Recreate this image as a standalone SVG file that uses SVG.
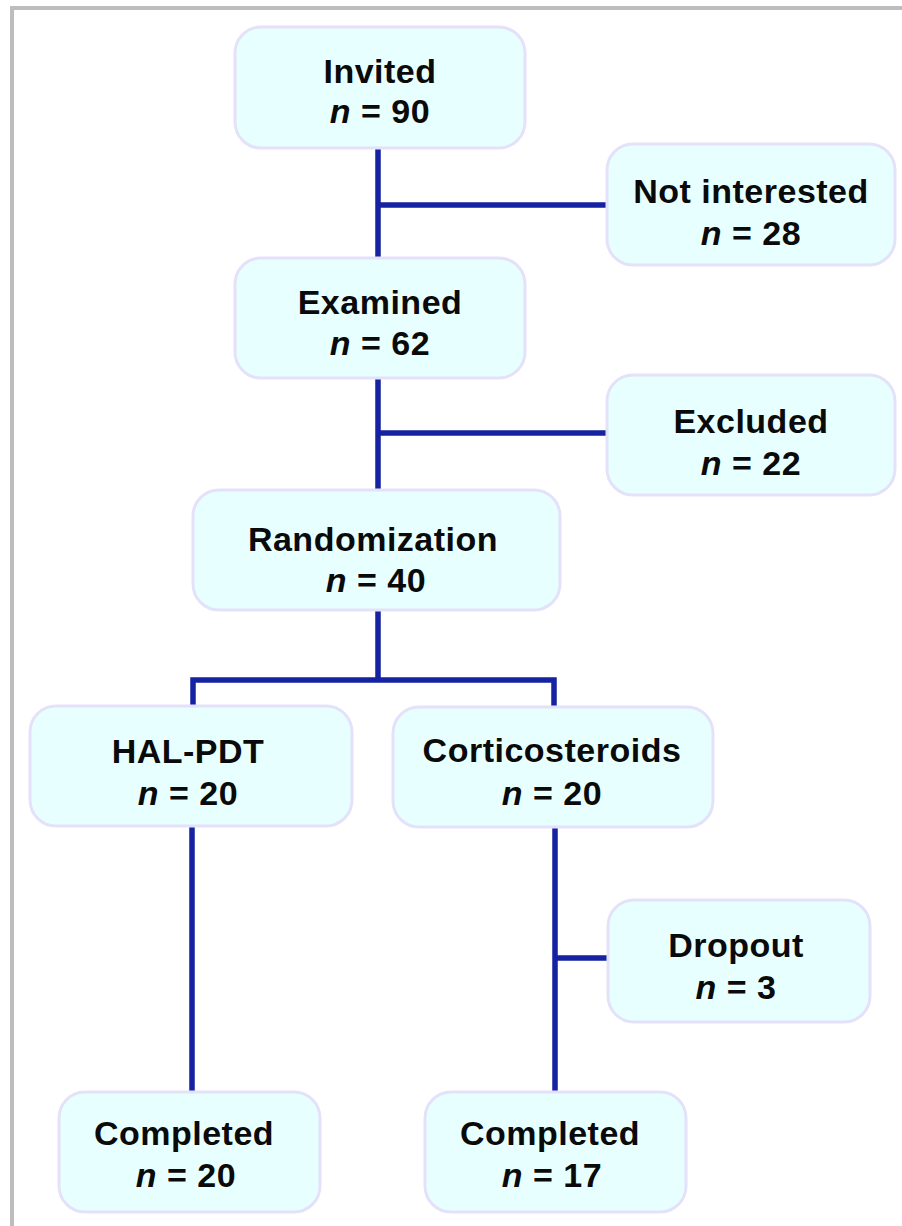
<svg xmlns="http://www.w3.org/2000/svg" width="902" height="1226" viewBox="0 0 902 1226">
<style>
.box{fill:#e8ffff;stroke:#e4e2fa;stroke-width:3}
.t{font-family:"Liberation Sans",Arial,sans-serif;font-weight:bold;font-size:34px;fill:#0a0a0a;text-anchor:middle;letter-spacing:0.5px}
.n{font-style:italic}
.c{stroke:#1522a2;stroke-width:5.5;fill:none;stroke-linecap:square}
</style>
<rect width="902" height="1226" fill="#ffffff"/>
<g id="frame">
<line x1="10" y1="8" x2="902" y2="8" stroke="#bdbdbd" stroke-width="4"/>
<line x1="12" y1="6" x2="12" y2="1226" stroke="#bdbdbd" stroke-width="4"/>
</g>
<g id="connectors">
<path class="c" d="M378 148V258M378 205H606"/>
<path class="c" d="M378 378V490M378 433H606"/>
<path class="c" d="M378 610V680M193 705V680H554V705"/>
<path class="c" d="M192 827V1091"/>
<path class="c" d="M555 827V1091M555 958H607"/>
</g>
<g id="invited">
<rect class="box" x="235" y="27" width="290" height="121" rx="26"/>
<text class="t" x="380" y="83">Invited</text>
<text class="t" x="380" y="123"><tspan class="n">n</tspan> = 90</text>
</g>
<g id="not-interested">
<rect class="box" x="607" y="144" width="288" height="121" rx="26"/>
<text class="t" x="751" y="203">Not interested</text>
<text class="t" x="751" y="245"><tspan class="n">n</tspan> = 28</text>
</g>
<g id="examined">
<rect class="box" x="235" y="258" width="290" height="120" rx="26"/>
<text class="t" x="380" y="314">Examined</text>
<text class="t" x="380" y="355"><tspan class="n">n</tspan> = 62</text>
</g>
<g id="excluded">
<rect class="box" x="607" y="375" width="288" height="120" rx="26"/>
<text class="t" x="751" y="433">Excluded</text>
<text class="t" x="751" y="475"><tspan class="n">n</tspan> = 22</text>
</g>
<g id="randomization">
<rect class="box" x="193" y="490" width="367" height="120" rx="26"/>
<text class="t" x="373" y="551">Randomization</text>
<text class="t" x="376" y="592"><tspan class="n">n</tspan> = 40</text>
</g>
<g id="hal-pdt">
<rect class="box" x="30" y="706" width="322" height="120" rx="26"/>
<text class="t" x="188" y="763">HAL-PDT</text>
<text class="t" x="188" y="805"><tspan class="n">n</tspan> = 20</text>
</g>
<g id="corticosteroids">
<rect class="box" x="393" y="707" width="320" height="120" rx="26"/>
<text class="t" x="552" y="762">Corticosteroids</text>
<text class="t" x="552" y="805"><tspan class="n">n</tspan> = 20</text>
</g>
<g id="dropout">
<rect class="box" x="608" y="900" width="262" height="122" rx="26"/>
<text class="t" x="736" y="957">Dropout</text>
<text class="t" x="736" y="999"><tspan class="n">n</tspan> = 3</text>
</g>
<g id="completed-hal">
<rect class="box" x="59" y="1092" width="261" height="120" rx="26"/>
<text class="t" x="184" y="1145">Completed</text>
<text class="t" x="186" y="1187"><tspan class="n">n</tspan> = 20</text>
</g>
<g id="completed-cort">
<rect class="box" x="425" y="1092" width="261" height="120" rx="26"/>
<text class="t" x="550" y="1145">Completed</text>
<text class="t" x="552" y="1187"><tspan class="n">n</tspan> = 17</text>
</g>
</svg>
